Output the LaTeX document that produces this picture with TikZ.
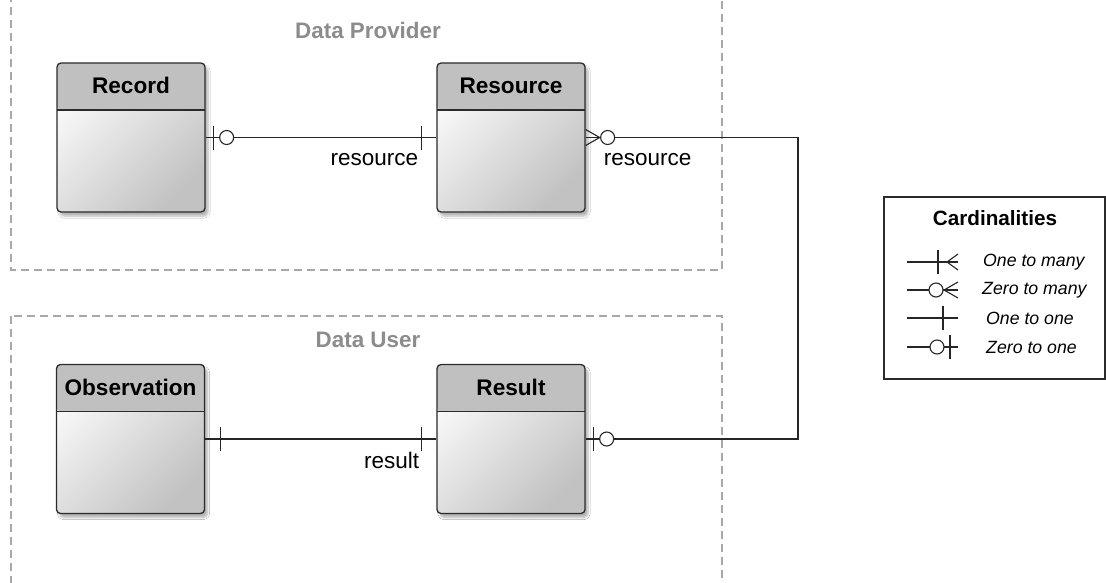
\documentclass[tikz,border=0pt]{standalone}
\usepackage{fontspec}
\setmainfont{Liberation Sans}
\usetikzlibrary{shadows.blur,calc}

\definecolor{frameC}{HTML}{A8A8A8}
\definecolor{groupT}{HTML}{8C8C8C}
\definecolor{hdrC}{HTML}{C0C0C0}
\definecolor{edgeC}{HTML}{2B2B2B}
\definecolor{lineC}{HTML}{262626}

\tikzset{
  entity/.style={draw=edgeC, line width=1.3pt, rounded corners=4pt,
    minimum width=148pt, minimum height=149pt, inner sep=0pt,
    shading=axis, top color=black!2, bottom color=black!24, shading angle=45,
    blur shadow={shadow xshift=3pt, shadow yshift=-4pt, shadow blur steps=6, shadow opacity=30},
    path picture={
      \fill[hdrC] (path picture bounding box.north west) rectangle ([yshift=-47pt]path picture bounding box.north east);
      \draw[edgeC, line width=1.3pt] ([yshift=-47pt]path picture bounding box.north west) -- ([yshift=-47pt]path picture bounding box.north east);
    }},
  hdrtext/.style={font=\fontsize{22.6}{26}\selectfont\bfseries, text=black, inner sep=0pt},
  grouplabel/.style={font=\fontsize{22.4}{26}\selectfont\bfseries, text=groupT, inner sep=0pt},
  frame/.style={draw=frameC, line width=1.3pt, dash pattern=on 8pt off 5pt},
  conn/.style={draw=lineC, line width=1.1pt},
  rolelabel/.style={font=\fontsize{22.5}{26}\selectfont, text=black, inner sep=0pt},
  legtext/.style={font=\fontsize{17.7}{21}\selectfont\itshape, text=black, inner sep=0pt, anchor=west},
  pics/zeroOne/.style={code={
    \draw[conn] (8,-12) -- (8,12);
    \draw[conn, fill=white] (21,0) circle[radius=7];}},
  pics/oneBar/.style={code={
    \draw[conn] (15,-12) -- (15,12);}},
  pics/zeroMany/.style={code={
    \draw[conn] (0,-8) -- (14,0) -- (0,8);
    \draw[conn, fill=white] (22,0) circle[radius=7];}},
  pics/oneMany/.style={code={
    \draw[conn] (0,-8) -- (11,0) -- (0,8);
    \draw[conn] (20,-12) -- (20,12);}},
}

\begin{document}
\begin{tikzpicture}[x=1pt, y=-1pt]
  \useasboundingbox[fill=white] (0,0) rectangle (1106,582);

  % group frames
  \draw[frame] (11,-6) rectangle (722,270);
  \draw[frame] (11,316) rectangle (722,592);
  \node[grouplabel] (provider) at (368,30) {Data Provider};
  \node[grouplabel] (user) at (368,340) {Data User};

  % entities
  \node[entity] (Record) at (131,137.5) {};
  \node[entity] (Resource) at (511,137.5) {};
  \node[entity] (Observation) at (130.5,439) {};
  \node[entity] (Result) at (511,439) {};
  \node[hdrtext] (RecordT) at ([yshift=-23.5pt]Record.north) {Record};
  \node[hdrtext] (ResourceT) at ([yshift=-23.5pt]Resource.north) {Resource};
  \node[hdrtext] (ObservationT) at ([yshift=-23.5pt]Observation.north) {Observation};
  \node[hdrtext] (ResultT) at ([yshift=-23.5pt]Result.north) {Result};

  % Record -- Resource
  \draw[conn] (Record.east) -- (Resource.west);
  \pic at (Record.east) {zeroOne};
  \pic[rotate=180] at (Resource.west) {oneBar};
  \node[rolelabel, anchor=east] (lblRes1) at ([xshift=-18pt, yshift=-22pt]Resource.west) {resource};

  % Resource -- Result
  \coordinate (bendR) at (798,0);
  \draw[conn] (Resource.east) -- (Resource.east -| bendR) -- (Result.east -| bendR) -- (Result.east);
  \pic at (Resource.east) {zeroMany};
  \pic at (Result.east) {zeroOne};
  \node[rolelabel, anchor=west] (lblRes2) at ([xshift=18pt, yshift=-22pt]Resource.east) {resource};

  % Observation -- Result
  \draw[conn] (Observation.east) -- (Result.west);
  \pic at (Observation.east) {oneBar};
  \pic[rotate=180] at (Result.west) {oneBar};
  \node[rolelabel, anchor=east] (lblResult) at ([xshift=-17pt, yshift=-21pt]Result.west) {result};

  % legend
  \node[draw=edgeC, line width=1.3pt, minimum width=221pt, minimum height=182pt, inner sep=0pt] (legend) at (994.5,288) {};
  \node[font=\fontsize{20.7}{24}\selectfont\bfseries, inner sep=0pt] (legendT) at (995,218) {Cardinalities};

  \coordinate (l1a) at (907,262); \coordinate (l1b) at (958,262);
  \coordinate (l2a) at (907,290); \coordinate (l2b) at (958,290);
  \coordinate (l3a) at (907,318); \coordinate (l3b) at (958,318);
  \coordinate (l4a) at (907,347); \coordinate (l4b) at (958,347);
  \draw[conn] (l1a) -- (l1b); \pic[rotate=180] at (l1b) {oneMany};
  \draw[conn] (l2a) -- (l2b); \pic[rotate=180] at (l2b) {zeroMany};
  \draw[conn] (l3a) -- (l3b); \pic[rotate=180] at (l3b) {oneBar};
  \draw[conn] (l4a) -- (l4b); \pic[rotate=180] at (l4b) {zeroOne};
  \node[legtext] (t1) at (983,262) {One to many};
  \node[legtext] (t2) at (982,290) {Zero to many};
  \node[legtext] (t3) at (986,318) {One to one};
  \node[legtext] (t4) at (986,347) {Zero to one};
\end{tikzpicture}
\end{document}
